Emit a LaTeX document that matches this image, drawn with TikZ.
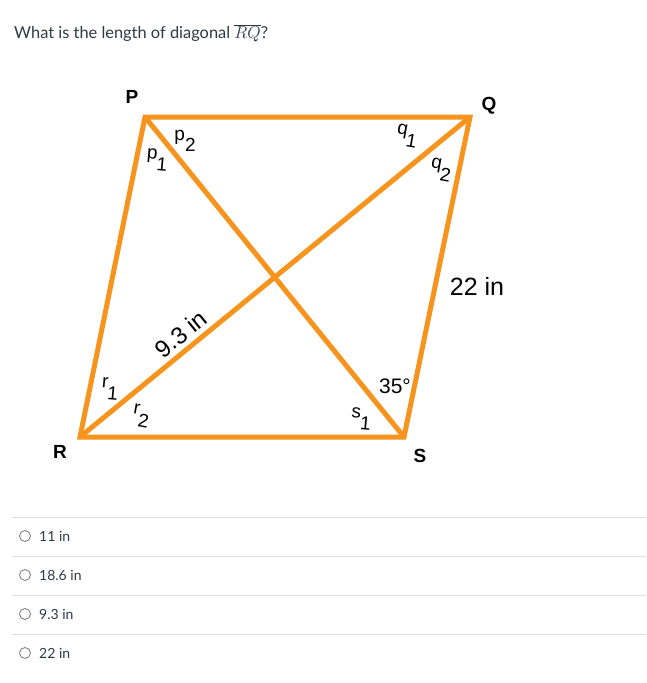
\documentclass[tikz,border=0pt]{standalone}
\usepackage{fontspec}
\setmainfont{Lato}
\newfontfamily\hv{Liberation Sans}
\definecolor{org}{RGB}{247,148,30}
\definecolor{txt}{RGB}{45,59,69}
\definecolor{rule}{RGB}{221,221,221}
\definecolor{radio}{RGB}{120,120,120}
\newcommand\lbl[2]{#1\raisebox{-0.6em}{#2}}
\tikzset{
  edge/.style={draw=org, line width=5pt},
  vlabel/.style={font=\hv\bfseries\fontsize{19}{19}\selectfont, inner sep=0pt},
  alabel/.style={font=\hv\fontsize{19}{19}\selectfont, inner sep=0pt},
  mlabel/.style={font=\hv\fontsize{21}{21}\selectfont, inner sep=0pt},
  opt/.style={font=\fontsize{14}{14}\selectfont, text=txt, anchor=west, inner sep=0pt},
  radiobtn/.style={circle, draw=radio, line width=0.8pt, minimum size=11pt, inner sep=0pt},
  divider/.style={draw=rule, line width=1pt}
}
\begin{document}
\begin{tikzpicture}[x=1pt,y=-1pt]
\useasboundingbox[fill=white] (0,0) rectangle (646,683);
% question
\node[anchor=base west, inner sep=0pt, text=txt, font=\fontsize{16.4}{16}\selectfont] (qtext) at (14,38) {What is the length of diagonal $\overline{RQ}$?};
% vertices
\coordinate (P) at (145,117);
\coordinate (Q) at (470,117);
\coordinate (R) at (80,437);
\coordinate (S) at (404,437);
\draw[edge] (P) -- (Q) -- (S) -- (R) -- cycle;
\draw[edge] (P) -- (S);
\draw[edge] (R) -- (Q);
% vertex labels
\node[vlabel] (lP) at (132,97) {P};
\node[vlabel] (lQ) at (489,106) {Q};
\node[vlabel] (lR) at (60,452) {R};
\node[vlabel] (lS) at (420,456) {S};
% angle labels
\node[alabel, rotate=-5] (p1) at (157,160) {\lbl{p}{1}};
\node[alabel] (p2) at (185,141) {\lbl{p}{2}};
\node[alabel, rotate=-10] (q1) at (407,136) {\lbl{q}{1}};
\node[alabel, rotate=-10] (q2) at (441,170) {\lbl{q}{2}};
\node[alabel, rotate=-5] (r1) at (110,389) {\lbl{r}{1}};
\node[alabel, rotate=-10] (r2) at (141,416) {\lbl{r}{2}};
\node[alabel, rotate=-5] (s1) at (361,419) {\lbl{s}{1}};
\node[mlabel, rotate=39, font=\hv\fontsize{24}{24}\selectfont] (d) at (181,334) {9.3 in};
\node[mlabel] (ang) at (395,386) {35°};
\node[mlabel, font=\hv\fontsize{25}{25}\selectfont] (side) at (477,286) {22 in};
% options
\foreach \y in {517,556,595,634} \draw[divider] (12,\y) -- (646,\y);
\node[radiobtn] (o1) at (25,536) {};
\node[radiobtn] (o2) at (25,575) {};
\node[radiobtn] (o3) at (25,614) {};
\node[radiobtn] (o4) at (25,653) {};
\node[opt] (t1) at (39,536) {11 in};
\node[opt] (t2) at (39,575) {18.6 in};
\node[opt] (t3) at (39,614) {9.3 in};
\node[opt] (t4) at (39,653) {22 in};
\end{tikzpicture}
\end{document}
